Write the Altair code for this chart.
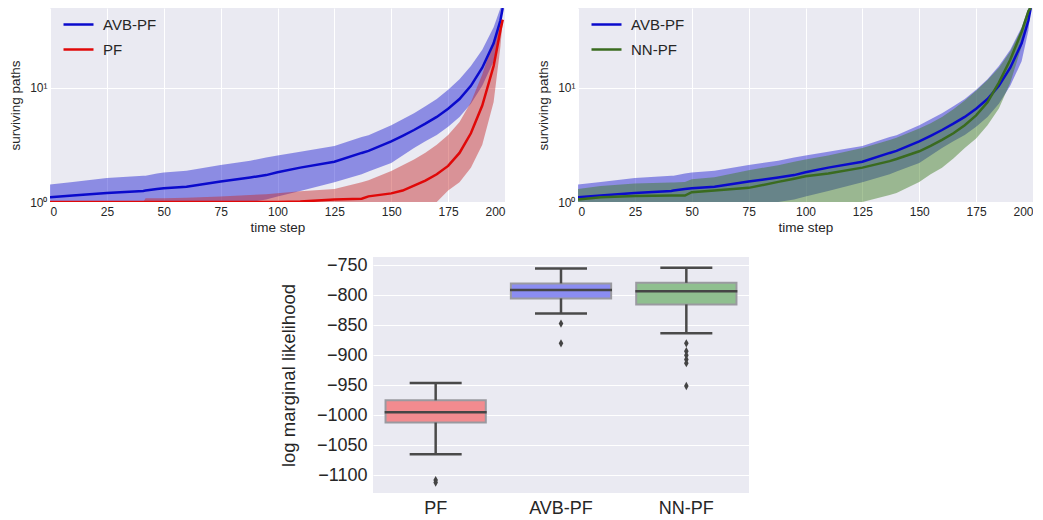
import altair as alt
import pandas as pd

# ---------------- data: surviving paths (mean and band) ----------------
T = [0, 10, 25, 41, 42, 47, 50, 60, 75, 88, 95, 100, 110, 125, 137, 140,
     150, 155, 160, 165, 170, 175, 180, 185, 190, 195, 198, 199]

AVB_mean = [1.10, 1.14, 1.20, 1.25, 1.26, 1.30, 1.32, 1.36, 1.51, 1.64, 1.72, 1.82,
            2.00, 2.25, 2.69, 2.80, 3.39, 3.80, 4.27, 4.85, 5.56, 6.56, 7.97, 10.4,
            15.0, 24.5, 39.0, 50.0]
AVB_hi = [1.42, 1.50, 1.62, 1.70, 1.70, 1.78, 1.81, 1.88, 2.11, 2.30, 2.45, 2.55,
          2.75, 3.10, 3.70, 3.85, 4.70, 5.30, 6.00, 6.90, 8.00, 9.60, 11.9, 15.5,
          21.5, 34.0, 50.0, 50.0]
AVB_lo = [1.0, 1.0, 1.0, 1.0, 1.0, 1.0, 1.0, 1.0, 1.0, 1.0, 1.05, 1.12,
          1.25, 1.49, 1.75, 1.85, 2.20, 2.55, 2.97, 3.40, 3.87, 4.56, 5.56, 7.24,
          10.4, 17.1, 32.0, 50.0]

PF_mean = [1.0, 1.0, 1.0, 1.0, 1.0, 1.0, 1.0, 1.0, 1.0, 1.0, 1.0, 1.0,
           1.01, 1.05, 1.07, 1.12, 1.19, 1.26, 1.39, 1.54, 1.75, 2.07, 2.69, 4.0,
           7.0, 15.5, 31.9, 39.5]
PF_hi = [1.0, 1.0, 1.0, 1.0, 1.08, 1.08, 1.08, 1.09, 1.12, 1.15, 1.17, 1.19,
         1.24, 1.30, 1.49, 1.55, 1.87, 2.10, 2.36, 2.70, 3.17, 3.87, 5.03, 7.48,
         13.1, 26.2, 38.0, 40.0]
PF_lo = [1.0, 1.0, 1.0, 1.0, 1.0, 1.0, 1.0, 1.0, 1.0, 1.0, 1.0, 1.0,
         1.0, 1.0, 1.0, 1.0, 1.0, 1.0, 1.0, 1.0, 1.0, 1.26, 1.49, 2.0,
         3.17, 7.5, 23.0, 39.0]

NN_mean = [1.05, 1.10, 1.13, 1.14, 1.14, 1.14, 1.22, 1.26, 1.33, 1.50, 1.60, 1.68,
           1.78, 2.00, 2.28, 2.38, 2.78, 3.10, 3.50, 4.00, 4.71, 5.74, 7.48, 11.1,
           17.6, 30.9, 47.0, 50.0]
NN_hi = [1.30, 1.38, 1.45, 1.48, 1.48, 1.50, 1.58, 1.65, 1.90, 2.10, 2.25, 2.36,
         2.55, 2.97, 3.50, 3.65, 4.41, 4.90, 5.56, 6.50, 7.73, 9.42, 11.7, 15.0,
         20.8, 33.0, 50.0, 50.0]
NN_lo = [1.0, 1.0, 1.0, 1.0, 1.0, 1.0, 1.0, 1.0, 1.0, 1.0, 1.0, 1.0,
         1.0, 1.0, 1.15, 1.20, 1.50, 1.75, 2.00, 2.40, 2.97, 3.60, 4.70, 6.60,
         11.1, 23.0, 42.0, 50.0]

# ---------------- data: log marginal likelihood box plot ----------------
box_cats = ["PF", "AVB-PF", "NN-PF"]
box_lo = [-1065, -830, -863]
box_q1 = [-1012, -805, -815]
box_med = [-995, -791, -793]
box_q3 = [-975, -780, -779]
box_hi = [-946, -755, -754]
out_cat = ["PF", "PF", "AVB-PF", "AVB-PF", "NN-PF", "NN-PF", "NN-PF", "NN-PF", "NN-PF", "NN-PF"]
out_val = [-1108, -1112, -847, -880, -880, -893, -900, -907, -913, -951]

# ---------------- styling ----------------
TXT = "#262626"
BG = "#EAEAF2"
LINE_COL = {"AVB-PF": "#0a0acc", "PF": "#e00808", "NN-PF": "#3a6b1f"}
BAND_COL = {"AVB-PF": "#1a1ad0", "PF": "#c62828", "NN-PF": "#3a7a1a"}
BOX_FILL = ["#F28B8F", "#8B8DF1", "#8FBF8F"]


def series_frame(pairs):
    rows = []
    for name, m, lo, hi in pairs:
        for t, a, b, c in zip(T, m, lo, hi):
            rows.append({"t": t, "series": name, "mean": a, "lo": b, "hi": c})
    return pd.DataFrame(rows)


df_left = series_frame([("AVB-PF", AVB_mean, AVB_lo, AVB_hi), ("PF", PF_mean, PF_lo, PF_hi)])
df_right = series_frame([("AVB-PF", AVB_mean, AVB_lo, AVB_hi), ("NN-PF", NN_mean, NN_lo, NN_hi)])

xenc = alt.X("t:Q", scale=alt.Scale(domain=[0, 200], nice=False),
             axis=alt.Axis(values=list(range(0, 201, 25)), title="time step",
                           labelFontSize=12, titleFontSize=13.5, labelColor=TXT,
                           titleColor=TXT, titleFontWeight="normal", grid=True,
                           gridColor="white", gridWidth=1, domain=False, ticks=False,
                           labelPadding=4, titlePadding=3))
yscale = alt.Scale(type="log", domain=[1, 50], nice=False)
yaxis = alt.Axis(values=[1, 10], labelExpr="datum.value == 1 ? '10⁰' : '10¹'",
                 title="surviving paths", labelFontSize=12, titleFontSize=13.5,
                 labelColor=TXT, titleColor=TXT, titleFontWeight="normal", grid=True,
                 gridColor="white", gridWidth=1, domain=False, ticks=False,
                 labelPadding=3, titlePadding=6, minExtent=22, maxExtent=22)
legend = alt.Legend(title=None, orient="none", legendX=12, legendY=0, padding=0,
                    symbolType="stroke", symbolSize=900, rowPadding=-5,
                    symbolStrokeWidth=2.5, labelFontSize=15,
                    labelColor=TXT, labelOffset=8)


def panel(data, a, b):
    dom = [a, b]
    base = alt.Chart(data)
    layers = []
    for s in dom:
        layers.append(
            base.transform_filter(alt.datum.series == s)
            .mark_area(opacity=0.45, clip=True, color=BAND_COL[s])
            .encode(x=xenc, y=alt.Y("lo:Q", scale=yscale, axis=yaxis), y2="hi:Q"))
    layers.append(
        base.mark_line(strokeWidth=2.5, clip=True).encode(
            x=xenc,
            y=alt.Y("mean:Q", scale=yscale, axis=yaxis),
            stroke=alt.Stroke("series:N", sort=dom,
                              scale=alt.Scale(domain=dom, range=[LINE_COL[a], LINE_COL[b]]),
                              legend=legend)))
    return alt.layer(*layers).properties(width=455, height=194)


left = panel(df_left, "AVB-PF", "PF")
right = panel(df_right, "AVB-PF", "NN-PF")
top = alt.hconcat(left, right, spacing=31).resolve_scale(stroke="independent")

# ---------------- box plot ----------------
box_df = pd.DataFrame({"cat": box_cats, "lo": box_lo, "q1": box_q1, "med": box_med,
                       "q3": box_q3, "hi": box_hi})
out_df = pd.DataFrame({"cat": out_cat, "val": out_val})

bx = alt.X("cat:N", sort=box_cats,
           scale=alt.Scale(domain=box_cats, paddingInner=0, paddingOuter=0),
           axis=alt.Axis(title=None, labelAngle=0, labelFontSize=18, labelColor=TXT,
                         ticks=False, domain=False, grid=False, labelPadding=6))
bys = alt.Scale(domain=[-1129.5, -736], nice=False, zero=False)
byax = alt.Axis(values=list(range(-1100, -749, 50)), format="d",
                title="log marginal likelihood", titleFontSize=18.5, labelFontSize=18,
                labelColor=TXT, titleColor=TXT, titleFontWeight="normal", grid=True,
                gridColor="white", gridWidth=1, domain=False, ticks=False,
                labelPadding=6, titlePadding=18, labelOverlap=False)

bb = alt.Chart(box_df)
WC = "#4a4a4a"
boxes = bb.mark_bar(width={"band": 0.8}, stroke="#9a9aa0", strokeWidth=2).encode(
    x=bx, y=alt.Y("q1:Q", scale=bys, axis=byax), y2="q3:Q",
    fill=alt.Fill("cat:N", scale=alt.Scale(domain=box_cats, range=BOX_FILL), legend=None))
wh_up = bb.mark_rule(color=WC, strokeWidth=2.5).encode(
    x=bx, y=alt.Y("q3:Q", scale=bys, axis=byax), y2="hi:Q")
wh_dn = bb.mark_rule(color=WC, strokeWidth=2.5).encode(
    x=bx, y=alt.Y("lo:Q", scale=bys, axis=byax), y2="q1:Q")
cap_up = bb.mark_tick(color=WC, size=52, thickness=2.5, opacity=1).encode(
    x=bx, y=alt.Y("hi:Q", scale=bys, axis=byax))
cap_dn = bb.mark_tick(color=WC, size=52, thickness=2.5, opacity=1).encode(
    x=bx, y=alt.Y("lo:Q", scale=bys, axis=byax))
med = bb.mark_tick(color="#454545", size=102, thickness=2.5, opacity=1).encode(
    x=bx, y=alt.Y("med:Q", scale=bys, axis=byax))
outl = alt.Chart(out_df).mark_point(shape="M0,-1L0.55,0L0,1L-0.55,0Z", filled=True, size=70,
                                    color="#444444", opacity=1).encode(
    x=bx, y=alt.Y("val:Q", scale=bys, axis=byax))

bottom = alt.layer(boxes, wh_up, wh_dn, cap_up, cap_dn, med, outl).properties(width=376, height=236)

spacer = alt.Chart(pd.DataFrame({"a": [0]})).mark_point(opacity=0).properties(
    width=229, height=236, view=alt.ViewBackground(fill=None, stroke=None))
bottom_row = alt.hconcat(spacer, bottom, spacing=0)

chart = alt.vconcat(top, bottom_row, spacing=22).resolve_scale(
    stroke="independent"
).properties(padding=0).configure(font="Liberation Sans").configure_view(
    fill=BG, stroke=None
)

chart.save("out.html", embed_options={"renderer": "svg", "actions": False})
